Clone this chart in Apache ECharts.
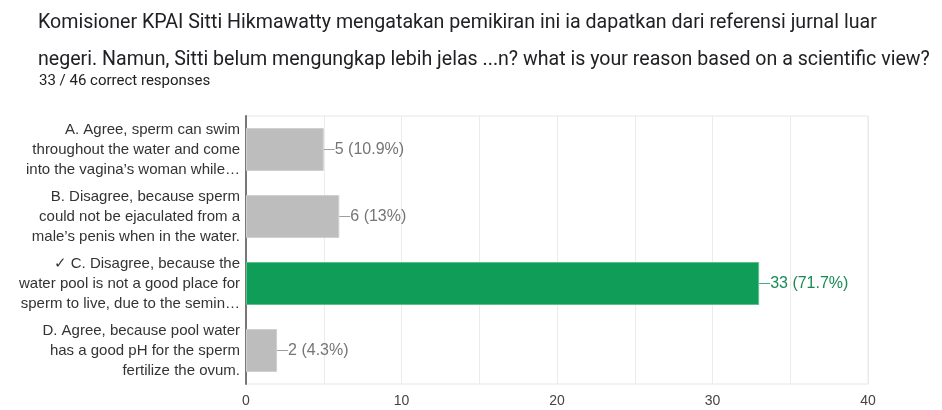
<!DOCTYPE html>
<html>
<head>
<meta charset="utf-8">
<script src="https://cdn.jsdelivr.net/npm/echarts@6/dist/echarts.min.js"></script>
<style>
  html, body { margin: 0; padding: 0; background: #fff; }
  #chart { width: 942px; height: 410px; }
</style>
</head>
<body>
<div id="chart"></div>
<script>
// answer options (top to bottom)
const categories = [
  'A. Agree, sperm can swim\nthroughout the water and come\ninto the vagina\u2019s woman while\u2026',
  'B. Disagree, because sperm\ncould not be ejaculated from a\nmale\u2019s penis when in the water.',
  '\u2713 C. Disagree, because the\nwater pool is not a good place for\nsperm to live, due to the semin\u2026',
  'D. Agree, because pool water\nhas a good pH for the sperm\nfertilize the ovum.'
]
const counts = [5, 6, 33, 2]
const percents = ['10.9%', '13%', '71.7%', '4.3%']
const correct = [false, false, true, false]
const xTicks = [0, 10, 20, 30, 40]

const GRAY = '#bdbdbd'
const GREEN = '#0f9d58'

const chart = echarts.init(document.getElementById('chart'))

chart.setOption({
  animation: false,
  textStyle: { fontFamily: 'Liberation Sans, Arial, sans-serif' },
  title: [
    {
      text: 'Komisioner KPAI Sitti Hikmawatty mengatakan pemikiran ini ia dapatkan dari referensi jurnal luar\nnegeri. Namun, Sitti belum mengungkap lebih jelas ...n? what is your reason based on a scientific view?',
      left: 33,
      top: 0,
      textStyle: {
        fontFamily: 'Roboto, sans-serif',
        fontSize: 19.6,
        fontWeight: 'normal',
        color: '#202124',
        lineHeight: 37
      }
    },
    {
      text: '33 / 46 correct responses',
      left: 34,
      top: 69,
      textStyle: {
        fontFamily: 'Roboto, sans-serif',
        fontSize: 15,
        fontWeight: 'normal',
        color: '#202124'
      }
    }
  ],
  grid: {
    left: 246,
    right: 74,
    top: 116,
    bottom: 26,
    show: true,
    borderColor: '#e6e6e6',
    borderWidth: 1
  },
  xAxis: {
    type: 'value',
    min: 0,
    max: 40,
    interval: 5,
    axisLine: { show: false },
    axisTick: { show: false },
    splitLine: { lineStyle: { color: '#ebebeb', width: 1 } },
    axisLabel: {
      margin: 10,
      fontSize: 14,
      color: '#444',
      formatter: v => (xTicks.indexOf(v) >= 0 ? String(v) : '')
    }
  },
  yAxis: {
    type: 'category',
    inverse: true,
    data: categories,
    axisLine: { show: true, lineStyle: { color: '#777', width: 2 } },
    axisTick: { show: false },
    axisLabel: {
      margin: 6,
      fontSize: 15,
      lineHeight: 20,
      color: '#333',
      align: 'right'
    }
  },
  series: [{
    type: 'bar',
    barWidth: 43,
    data: counts.map((v, i) => ({
      value: v,
      itemStyle: {
        color: correct[i] ? GREEN : GRAY,
        borderColor: correct[i] ? '#5bbf8e' : '#d0d0d0',
        borderWidth: 1
      },
      label: {
        color: correct[i] ? '#1a8a55' : '#757575',
        rich: {
          l: { width: 11, height: 1, backgroundColor: correct[i] ? '#4aa87a' : '#9e9e9e' }
        }
      }
    })),
    label: {
      show: true,
      position: 'right',
      distance: 0,
      fontSize: 16,
      formatter: p => '{l|}' + p.value + ' (' + percents[p.dataIndex] + ')'
    }
  }]
})
</script>
</body>
</html>
